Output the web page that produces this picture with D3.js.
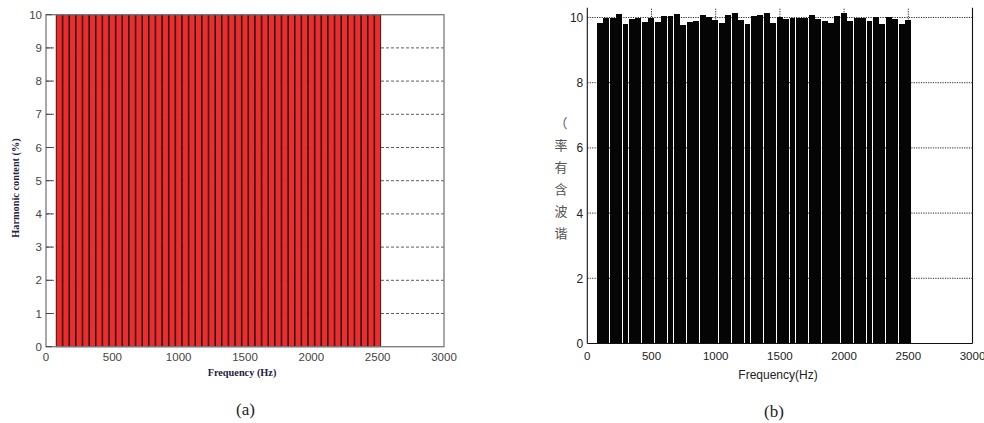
<!DOCTYPE html>
<html>
<head>
<meta charset="utf-8">
<script src="https://cdn.jsdelivr.net/npm/d3@7"></script>
<style>
  html, body { margin: 0; padding: 0; background: #fff; }
  svg { display: block; }
</style>
</head>
<body>
<svg id="chart" width="984" height="423"></svg>
<script>
// Harmonic frequencies (Hz): 2nd to 50th harmonic of 50 Hz
const frequencies = [100, 150, 200, 250, 300, 350, 400, 450, 500, 550, 600, 650, 700, 750, 800,
  850, 900, 950, 1000, 1050, 1100, 1150, 1200, 1250, 1300, 1350, 1400, 1450, 1500, 1550, 1600,
  1650, 1700, 1750, 1800, 1850, 1900, 1950, 2000, 2050, 2100, 2150, 2200, 2250, 2300, 2350,
  2400, 2450, 2500];

// Panel (a): harmonic content (%)
const contentA = [10, 10, 10, 10, 10, 10, 10, 10, 10, 10, 10, 10, 10, 10, 10, 10, 10, 10, 10,
  10, 10, 10, 10, 10, 10, 10, 10, 10, 10, 10, 10, 10, 10, 10, 10, 10, 10, 10, 10, 10, 10, 10,
  10, 10, 10, 10, 10, 10, 10];

// Panel (b): harmonic content (%)
const contentB = [9.83, 10.0, 10.0, 10.11, 9.81, 9.94, 10.0, 9.87, 10.0, 9.86, 10.05, 10.05,
  10.11, 9.78, 9.87, 9.9, 10.09, 10.02, 9.92, 9.83, 10.07, 10.14, 9.92, 9.81, 10.05, 10.09,
  10.14, 9.83, 10.02, 9.95, 10.0, 10.0, 10.0, 10.08, 9.94, 9.9, 9.83, 10.06, 10.15, 9.88,
  10.0, 10.0, 9.88, 10.02, 9.79, 10.02, 9.94, 9.79, 9.92];

const xTicks = [0, 500, 1000, 1500, 2000, 2500, 3000];
const yTicksA = [0, 1, 2, 3, 4, 5, 6, 7, 8, 9, 10];
const yTicksB = [0, 2, 4, 6, 8, 10];
const gridYA = [1, 2, 3, 4, 5, 6, 7, 8, 9];
const gridYB = [2, 4, 6, 8, 10];
const gridXB = [500, 1000, 1500, 2000, 2500];
const yLabelB = ["谐", "波", "含", "有", "率", "（"];
const binWidth = 50; // Hz, one bar per harmonic

const svg = d3.select("#chart");
const tickFont = "Liberation Sans, Arial, sans-serif";
const serif = "Liberation Serif, Times New Roman, serif";

// ---------- Panel (a) ----------
const xa = d3.scaleLinear().domain([0, 3000]).range([46, 444]);
const ya = d3.scaleLinear().domain([0, 10]).range([346.7, 14.7]);
const ga = svg.append("g");

// dashed horizontal grid
ga.append("g").selectAll("line").data(gridYA).join("line")
  .attr("x1", xa(0)).attr("x2", xa(3000))
  .attr("y1", d => ya(d)).attr("y2", d => ya(d))
  .attr("stroke", "#333").attr("stroke-width", 0.8)
  .attr("stroke-dasharray", "3,2");

// bars
const bwA = xa(binWidth) - xa(0);
ga.append("g").selectAll("rect").data(frequencies).join("rect")
  .attr("x", d => xa(d - binWidth / 2) + 0.3)
  .attr("width", bwA - 0.6)
  .attr("y", (d, i) => ya(contentA[i]))
  .attr("height", (d, i) => ya(0) - ya(contentA[i]))
  .attr("fill", "#ef2b2b")
  .attr("stroke", "#111")
  .attr("stroke-width", 0.9);

// axis box
ga.append("rect")
  .attr("x", xa(0)).attr("y", ya(10))
  .attr("width", xa(3000) - xa(0)).attr("height", ya(0) - ya(10))
  .attr("fill", "none").attr("stroke", "#7a7a7a").attr("stroke-width", 1.3);

// y ticks
ga.append("g").selectAll("line").data(yTicksA).join("line")
  .attr("x1", xa(0)).attr("x2", xa(0) + 6)
  .attr("y1", d => ya(d)).attr("y2", d => ya(d))
  .attr("stroke", "#444").attr("stroke-width", 1);
ga.append("g").selectAll("text").data(yTicksA).join("text")
  .attr("x", xa(0) - 4).attr("y", d => ya(d) + 4)
  .attr("text-anchor", "end")
  .attr("font-family", tickFont).attr("font-size", 11.5).attr("fill", "#444")
  .text(d => d);
// x tick labels
ga.append("g").selectAll("text").data(xTicks).join("text")
  .attr("x", d => xa(d)).attr("y", 360.5)
  .attr("text-anchor", "middle")
  .attr("font-family", tickFont).attr("font-size", 11.5).attr("fill", "#444")
  .text(d => d);

// axis titles
ga.append("text")
  .attr("x", 242).attr("y", 376)
  .attr("text-anchor", "middle")
  .attr("font-family", serif)
  .attr("font-weight", "bold").attr("font-size", 10.3).attr("fill", "#1f2240")
  .text("Frequency (Hz)");
ga.append("text")
  .attr("transform", "translate(19,188) rotate(-90)")
  .attr("text-anchor", "middle")
  .attr("font-family", serif)
  .attr("font-weight", "bold").attr("font-size", 10.3).attr("fill", "#1f2240")
  .text("Harmonic content (%)");
ga.append("text")
  .attr("x", 245.5).attr("y", 415)
  .attr("text-anchor", "middle")
  .attr("font-family", serif)
  .attr("font-size", 17).attr("fill", "#222")
  .text("(a)");

// ---------- Panel (b) ----------
const xb = d3.scaleLinear().domain([0, 3000]).range([587.3, 972.5]);
const yb = d3.scaleLinear().domain([0, 10]).range([343.5, 17.5]);
const yTopB = 10.3;
const gb = svg.append("g");

// dotted grid
gb.append("g").selectAll("line").data(gridYB).join("line")
  .attr("x1", xb(0)).attr("x2", xb(3000))
  .attr("y1", d => yb(d)).attr("y2", d => yb(d))
  .attr("stroke", "#111").attr("stroke-width", 0.9)
  .attr("stroke-dasharray", "1.2,1.2");
gb.append("g").selectAll("line").data(gridXB).join("line")
  .attr("x1", d => xb(d)).attr("x2", d => xb(d))
  .attr("y1", yb(0)).attr("y2", yb(yTopB))
  .attr("stroke", "#111").attr("stroke-width", 0.9)
  .attr("stroke-dasharray", "1.2,1.2");

// bars
const bwB = xb(binWidth) - xb(0);
gb.append("g").attr("shape-rendering", "crispEdges")
  .selectAll("rect").data(frequencies).join("rect")
  .attr("x", d => xb(d - binWidth / 2))
  .attr("width", bwB - 0.55)
  .attr("y", (d, i) => yb(contentB[i]))
  .attr("height", (d, i) => yb(0) - yb(contentB[i]))
  .attr("fill", "#050505");

// axis lines: left, bottom, right
const axB = gb.append("g").attr("stroke", "#111").attr("stroke-width", 1.1).attr("fill", "none");
axB.append("line").attr("x1", xb(0)).attr("x2", xb(0)).attr("y1", yb(0)).attr("y2", yb(yTopB));
axB.append("line").attr("x1", xb(0)).attr("x2", xb(3000)).attr("y1", yb(0)).attr("y2", yb(0));
axB.append("line").attr("x1", xb(3000)).attr("x2", xb(3000)).attr("y1", yb(0)).attr("y2", yb(yTopB));

gb.append("g").selectAll("text").data(yTicksB).join("text")
  .attr("x", xb(0) - 4).attr("y", d => yb(d) + 4.5)
  .attr("text-anchor", "end")
  .attr("font-family", tickFont).attr("font-size", 12).attr("fill", "#222")
  .text(d => d);
gb.append("g").selectAll("text").data(xTicks).join("text")
  .attr("x", d => xb(d)).attr("y", 359.5)
  .attr("text-anchor", "middle")
  .attr("font-family", tickFont).attr("font-size", 11.5).attr("fill", "#222")
  .text(d => d);

gb.append("text")
  .attr("x", 778).attr("y", 379)
  .attr("text-anchor", "middle")
  .attr("font-family", tickFont).attr("font-size", 12).attr("fill", "#222")
  .text("Frequency(Hz)");

// vertical y title: upright glyphs stacked bottom to top
gb.append("g").selectAll("text").data(yLabelB).join("text")
  .attr("x", 561)
  .attr("y", (d, i) => 238 - i * 22)
  .attr("text-anchor", "middle")
  .attr("font-family", "Noto Sans CJK SC, sans-serif")
  .attr("font-size", 13).attr("font-weight", 400).attr("fill", "#555")
  .text(d => d);

gb.append("text")
  .attr("x", 774).attr("y", 417)
  .attr("text-anchor", "middle")
  .attr("font-family", serif)
  .attr("font-size", 17).attr("fill", "#222")
  .text("(b)");
</script>
</body>
</html>
